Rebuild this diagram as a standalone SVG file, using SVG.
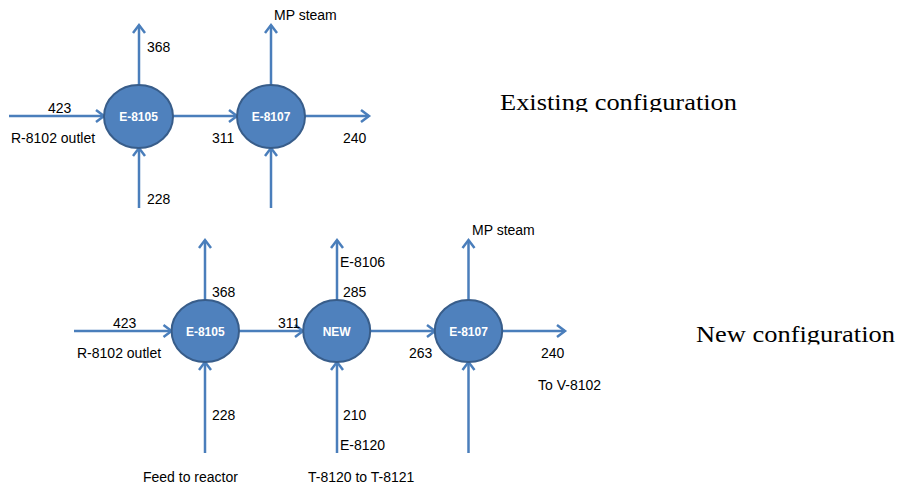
<svg xmlns="http://www.w3.org/2000/svg" width="897" height="488" viewBox="0 0 897 488">
<style>
.ln{stroke:#4A7EBB;stroke-width:2.5;fill:none;marker-end:url(#ah)}
.ln0{stroke:#4A7EBB;stroke-width:2.5;fill:none}
.nd{fill:#4F81BD;stroke:#385D8A;stroke-width:2}
.nt{font-family:"Liberation Sans",Arial,sans-serif;font-size:12px;font-weight:bold;fill:#fff;text-anchor:middle}
.lb{font-family:"Liberation Sans",Arial,sans-serif;font-size:14px;fill:#000}
.tt{font-family:"Liberation Serif","Times New Roman",serif;font-size:23px;fill:#000}
</style>
<defs>
<marker id="ah" markerUnits="userSpaceOnUse" markerWidth="14" markerHeight="16" refX="10" refY="7" orient="auto" overflow="visible">
<path d="M2,1 L10,7 L2,13" fill="none" stroke="#4A7EBB" stroke-width="2.5"/>
</marker>
<clipPath id="c1"><rect x="480" y="80" width="300" height="32"/></clipPath>
<clipPath id="c2"><rect x="680" y="310" width="217" height="34.5"/></clipPath>
</defs>
<rect width="897" height="488" fill="#fff"/>
<g id="connectors">
<!-- existing -->
<line class="ln" x1="9" y1="116" x2="104" y2="116"/>
<line class="ln" x1="139" y1="85" x2="139" y2="25"/>
<line class="ln" x1="139" y1="208" x2="139" y2="148"/>
<line class="ln" x1="173" y1="116" x2="237" y2="116"/>
<line class="ln" x1="271" y1="85" x2="271" y2="25"/>
<line class="ln" x1="305" y1="116" x2="369" y2="116"/>
<line class="ln" x1="271" y1="208" x2="271" y2="148"/>
<!-- new -->
<line class="ln" x1="74" y1="331" x2="171.5" y2="331"/>
<line class="ln" x1="205" y1="300" x2="205" y2="240"/>
<line class="ln" x1="205" y1="453" x2="205" y2="362"/>
<line class="ln" x1="239" y1="331" x2="303" y2="331"/>
<line class="ln" x1="337" y1="300" x2="337" y2="240"/>
<line class="ln" x1="337" y1="453" x2="337" y2="362"/>
<line class="ln" x1="370" y1="331" x2="435" y2="331"/>
<line class="ln" x1="468.5" y1="300" x2="468.5" y2="240"/>
<line class="ln" x1="502" y1="331" x2="565" y2="331"/>
<line class="ln" x1="468.5" y1="453" x2="468.5" y2="362"/>
</g>
<g id="node-e8105-existing">
<ellipse class="nd" cx="138.5" cy="116.5" rx="34.5" ry="31.5"/>
<text class="nt" x="138.5" y="121">E-8105</text>
</g>
<g id="node-e8107-existing">
<ellipse class="nd" cx="271" cy="116.5" rx="34" ry="31.5"/>
<text class="nt" x="271" y="121">E-8107</text>
</g>
<g id="node-e8105-new">
<ellipse class="nd" cx="205.3" cy="331" rx="33.7" ry="31"/>
<text class="nt" x="205.3" y="335.5">E-8105</text>
</g>
<g id="node-new">
<ellipse class="nd" cx="336.7" cy="331" rx="33.5" ry="31"/>
<text class="nt" x="336.7" y="335.5">NEW</text>
</g>
<g id="node-e8107-new">
<ellipse class="nd" cx="468.5" cy="331" rx="33.7" ry="31"/>
<text class="nt" x="468.5" y="335.5">E-8107</text>
</g>
<g id="labels">
<text class="lb" x="274" y="20">MP steam</text>
<text class="lb" x="147" y="52">368</text>
<text class="lb" x="48" y="112.5">423</text>
<text class="lb" x="11" y="143">R-8102 outlet</text>
<text class="lb" x="212" y="143">311</text>
<text class="lb" x="343" y="143">240</text>
<text class="lb" x="147" y="204">228</text>
<text class="tt" x="500" y="109.5" textLength="237" lengthAdjust="spacingAndGlyphs" clip-path="url(#c1)">Existing configuration</text>

<text class="lb" x="472" y="235">MP steam</text>
<text class="lb" x="340" y="266.5">E-8106</text>
<text class="lb" x="212" y="296.5">368</text>
<text class="lb" x="343" y="296.5">285</text>
<text class="lb" x="113" y="327.5">423</text>
<text class="lb" x="278" y="327.5">311</text>
<text class="lb" x="77" y="358">R-8102 outlet</text>
<text class="lb" x="409" y="358">263</text>
<text class="lb" x="541" y="358">240</text>
<text class="lb" x="538" y="390">To V-8102</text>
<text class="lb" x="212" y="420">228</text>
<text class="lb" x="343" y="420">210</text>
<text class="lb" x="340" y="450">E-8120</text>
<text class="lb" x="143" y="481.5">Feed to reactor</text>
<text class="lb" x="308" y="481.5">T-8120 to T-8121</text>
<text class="tt" x="696" y="342.3" textLength="199" lengthAdjust="spacingAndGlyphs" clip-path="url(#c2)">New configuration</text>
</g>
</svg>
